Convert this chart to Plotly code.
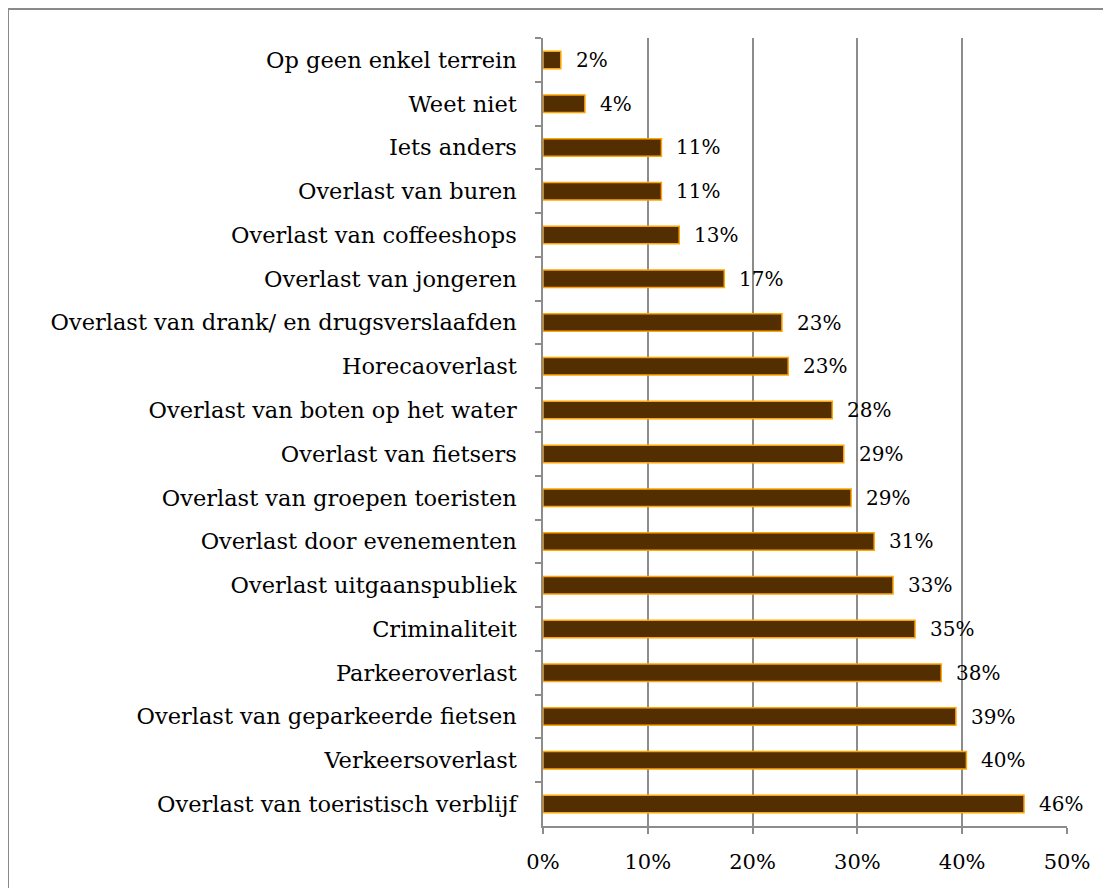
import plotly.graph_objects as go

categories = [
    "Op geen enkel terrein",
    "Weet niet",
    "Iets anders",
    "Overlast van buren",
    "Overlast van coffeeshops",
    "Overlast van jongeren",
    "Overlast van drank/ en drugsverslaafden",
    "Horecaoverlast",
    "Overlast van boten op het water",
    "Overlast van fietsers",
    "Overlast van groepen toeristen",
    "Overlast door evenementen",
    "Overlast uitgaanspubliek",
    "Criminaliteit",
    "Parkeeroverlast",
    "Overlast van geparkeerde fietsen",
    "Verkeersoverlast",
    "Overlast van toeristisch verblijf",
]
values = [1.7, 4.0, 11.3, 11.3, 13.0, 17.3, 22.8, 23.4, 27.6, 28.7, 29.4,
          31.6, 33.4, 35.5, 38.0, 39.4, 40.4, 45.9]
value_labels = ["2%", "4%", "11%", "11%", "13%", "17%", "23%", "23%", "28%",
                "29%", "29%", "31%", "33%", "35%", "38%", "39%", "40%", "46%"]
x_tickvals = [0, 10, 20, 30, 40, 50]
x_ticktext = ["0%", "10%", "20%", "30%", "40%", "50%"]

FONT = "DejaVu Serif"
GRID = "#8c8c8c"

fig = go.Figure()
fig.add_trace(go.Bar(
    y=categories,
    x=values,
    orientation="h",
    marker=dict(color="#532E00", line=dict(color="#FFA500", width=1.5)),
    hoverinfo="skip",
))

for cat, v, lab in zip(categories, values, value_labels):
    fig.add_annotation(
        x=v, y=cat, xref="x", yref="y", text=lab, showarrow=False,
        xanchor="left", yanchor="middle", xshift=13,
        font=dict(family=FONT, size=20, color="#000000"),
    )

fig.update_layout(
    width=1111, height=888,
    margin=dict(l=535, r=52, t=30, b=70),
    paper_bgcolor="white", plot_bgcolor="white",
    bargap=0.6,
    showlegend=False,
    font=dict(family=FONT, size=21, color="#000000"),
    xaxis=dict(
        range=[0, 50], tickvals=x_tickvals, ticktext=x_ticktext,
        showgrid=True, gridcolor=GRID, gridwidth=1.5,
        showline=True, linecolor=GRID, linewidth=1.5,
        ticks="outside", ticklen=6, tickcolor=GRID, tickwidth=1.5,
        zeroline=False, ticklabelstandoff=10,
        tickfont=dict(family=FONT, size=21, color="#000000"),
    ),
    yaxis=dict(
        type="category", autorange="reversed",
        categoryorder="array", categoryarray=categories,
        showline=True, linecolor=GRID, linewidth=1.5,
        ticks="outside", ticklen=6, tickcolor=GRID, tickwidth=1.5,
        tickson="boundaries", showgrid=False,
        ticklabelstandoff=20,
        tickfont=dict(family=FONT, size=22.5, color="#000000"),
    ),
    shapes=[dict(
        type="rect", xref="paper", yref="paper",
        x0=(8 - 543) / 524, x1=1.3, y0=-0.3, y1=1 + (38 - 9) / 788,
        line=dict(color="#8a8a8a", width=2), fillcolor="rgba(0,0,0,0)",
        layer="below",
    )],
)

fig.write_html("out.html")
